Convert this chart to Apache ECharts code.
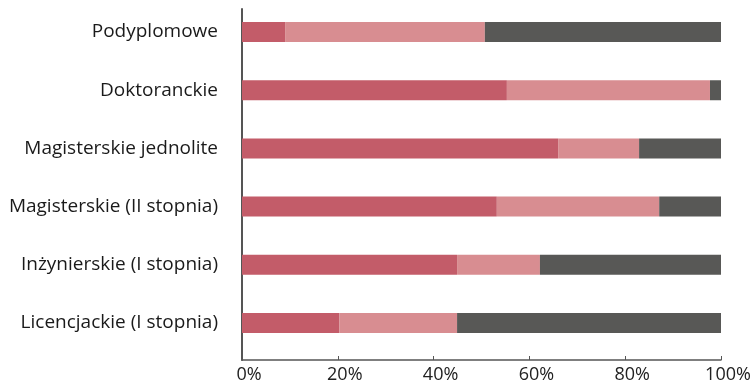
<!DOCTYPE html>
<html>
<head>
<meta charset="utf-8">
<script src="https://cdn.jsdelivr.net/npm/echarts@6/dist/echarts.min.js"></script>
<style>html,body{margin:0;padding:0;background:#fff}#c{width:754px;height:384px}</style>
</head>
<body>
<div id="c"></div>
<script>
const categories = ["Licencjackie (I stopnia)", "Inżynierskie (I stopnia)", "Magisterskie (II stopnia)", "Magisterskie jednolite", "Doktoranckie", "Podyplomowe"];
const series1 = [20.3, 44.9, 53.2, 66.0, 55.3, 9.0];
const series2 = [24.6, 17.3, 33.9, 16.9, 42.4, 41.7];
const series3 = [55.1, 37.8, 12.9, 17.1, 2.3, 49.3];
const xTicks = [0, 20, 40, 60, 80, 100];

const FONT = "Open Sans";
const colors = ["#c35c69", "#d88d91", "#585856"];
const chart = echarts.init(document.getElementById('c'));
const mk = (name, data, i) => ({
  name, type: 'bar', stack: 'all', data, barWidth: 20,
  xAxisIndex: 0, yAxisIndex: 0,
  itemStyle: { color: colors[i] }, emphasis: { disabled: true }
});
chart.setOption({
  animation: false,
  grid: [
    { left: 242, right: 33, top: 3, bottom: 32 },
    { left: 242, right: 33, top: 9, bottom: 23 }
  ],
  xAxis: [
    { gridIndex: 0, type: 'value', min: 0, max: 100, show: false },
    { gridIndex: 1, type: 'value', min: 0, max: 100, interval: 20,
      axisLine: { show: true, lineStyle: { color: '#555', width: 1.5 } },
      axisTick: { show: true, length: 4, inside: true, lineStyle: { color: '#555' } },
      splitLine: { show: false },
      axisLabel: { color: '#222', fontFamily: FONT, fontSize: 18, margin: 6,
        padding: [0, 0, 0, 14],
        formatter: v => xTicks.includes(v) ? v + '%' : '' } }
  ],
  yAxis: [
    { gridIndex: 0, type: 'category', data: categories,
      axisLine: { show: false }, axisTick: { show: false },
      axisLabel: { color: '#1a1a1a', fontFamily: FONT, fontSize: 19, margin: 24 } },
    { gridIndex: 1, type: 'value', min: 0, max: 1,
      axisLine: { show: true, lineStyle: { color: '#555', width: 2 } },
      axisTick: { show: false }, axisLabel: { show: false }, splitLine: { show: false } }
  ],
  series: [mk('s1', series1, 0), mk('s2', series2, 1), mk('s3', series3, 2)]
});
</script>
</body>
</html>
